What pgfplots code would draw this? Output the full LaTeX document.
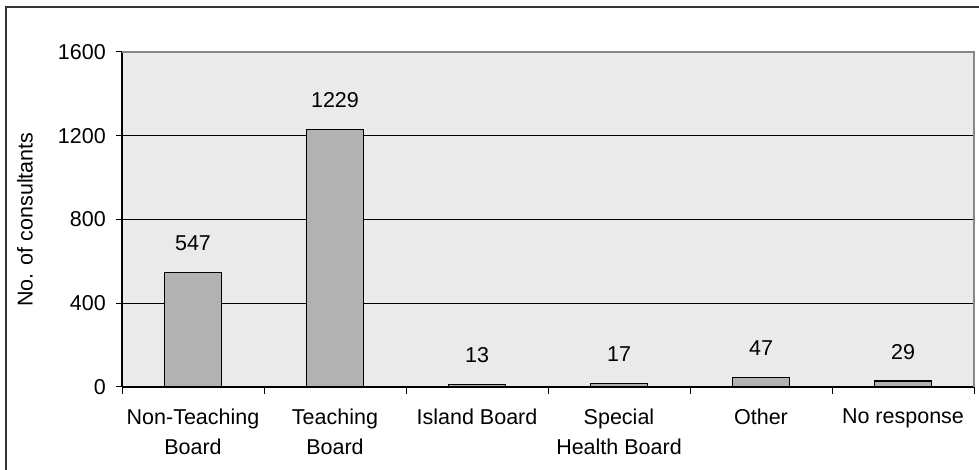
\documentclass[border=0pt]{standalone}
\usepackage{fontspec}
\setmainfont{Liberation Sans}
\usepackage{pgfplots}
\pgfplotsset{compat=1.18}
\definecolor{plotbg}{HTML}{EAEAEA}
\definecolor{barfill}{HTML}{B2B2B2}
\definecolor{borderg}{HTML}{888888}
\begin{document}
\begin{tikzpicture}[x=1pt,y=1pt]
\useasboundingbox (0,0) rectangle (979,470);
\draw[line width=2pt, color=black!80] (6,0) -- (6,462.5) -- (979,462.5);
\begin{axis}[
  at={(122pt,83pt)}, anchor=south west,
  scale only axis, width=852pt, height=335pt,
  xmin=0, xmax=6, ymin=0, ymax=1600,
  axis background/.style={fill=plotbg},
  axis x line*=bottom, axis y line*=left,
  axis line style={line width=1.3pt, black, -},
  xtick={0.5,1.5,2.5,3.5,4.5,5.5},
  xticklabels={{Non-Teaching\\Board},{Teaching\\Board},{Island Board},{Special\\Health Board},{Other},{No response}},
  major x tick style={draw=none},
  minor xtick={0,1,2,3,4,5,6},
  minor x tick style={black, line width=1pt},
  minor tick length=7pt,
  ytick={0,400,800,1200,1600},
  major y tick style={black, line width=1pt},
  major tick length=6pt,
  tick align=outside,
  ymajorgrids,
  grid style={black, line width=0.9pt},
  /pgf/number format/assume math mode=true,
  /pgf/number format/set thousands separator={},
  tick label style={font=\fontsize{21.5}{30}\selectfont},
  xticklabel style={align=center, inner sep=0pt, yshift=-16pt},
  yticklabel style={inner sep=0pt, xshift=-10pt},
  ylabel={No. of consultants},
  ylabel style={font=\fontsize{21.5}{24}\selectfont, at={(axis description cs:-0.1138,0.5)}, anchor=center},
  nodes near coords,
  every node near coord/.append style={font=\fontsize{21.5}{24}\selectfont, anchor=south, inner sep=0pt, yshift=21pt},
  clip=false,
]
\addplot[ybar, bar width=57pt, fill=barfill, draw=black, line width=1.3pt] coordinates {
  (0.5,547) (1.5,1229) (2.5,13) (3.5,17) (4.5,47) (5.5,29)
};
\draw[borderg, line width=2pt] (rel axis cs:0,1) -- (rel axis cs:1,1) -- (rel axis cs:1,0);
\end{axis}
\end{tikzpicture}
\end{document}
